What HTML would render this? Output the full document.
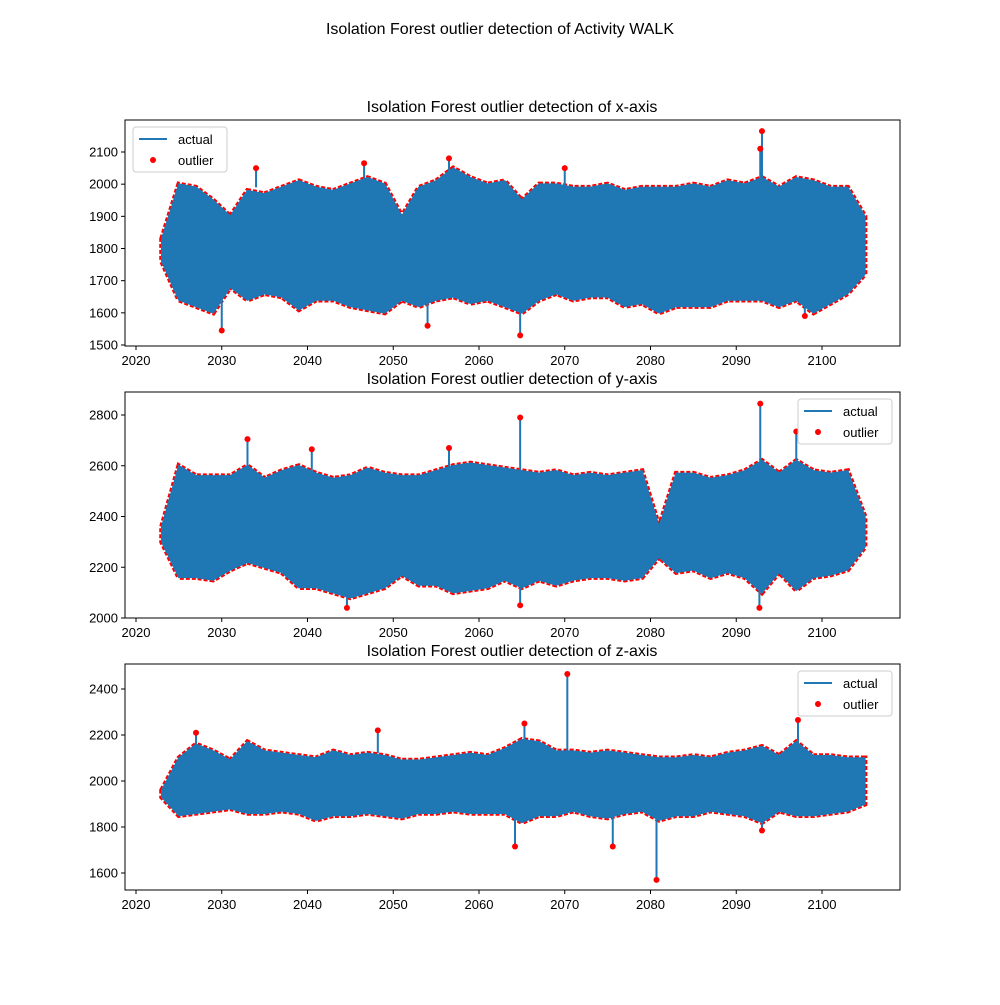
<!DOCTYPE html>
<html><head><meta charset="utf-8"><style>
body{margin:0;background:#fff;font-family:"Liberation Sans","DejaVu Sans",sans-serif}
svg text{font-family:"Liberation Sans","DejaVu Sans",sans-serif}
</style></head><body>
<svg id="c" width="1000" height="1000" xmlns="http://www.w3.org/2000/svg">
<text x="500" y="34" font-size="16" text-anchor="middle">Isolation Forest outlier detection of Activity WALK</text>
</svg>
<script>
const years=[2023,2025,2027,2029,2031,2033,2035,2037,2039,2041,2043,2045,2047,2049,2051,2053,2055,2057,2059,2061,2063,2065,2067,2069,2071,2073,2075,2077,2079,2081,2083,2085,2087,2089,2091,2093,2095,2097,2099,2101,2103,2105];
const xHi=[1830,2000,1990,1950,1900,1980,1970,1990,2010,1990,1980,2000,2020,2000,1900,1990,2010,2050,2020,2000,2010,1950,2000,2000,1990,1990,2000,1980,1990,1990,1990,2000,1990,2010,2000,2020,1990,2020,2010,1990,1990,1900];
const xLo=[1760,1640,1620,1600,1680,1640,1660,1650,1610,1640,1640,1620,1610,1600,1640,1620,1640,1650,1630,1640,1620,1600,1640,1660,1640,1650,1650,1620,1630,1600,1620,1620,1620,1640,1640,1640,1620,1640,1600,1630,1660,1720];
const yHi=[2360,2600,2560,2560,2560,2600,2550,2580,2600,2570,2550,2560,2590,2570,2560,2560,2580,2600,2610,2600,2590,2580,2570,2580,2560,2570,2560,2570,2580,2360,2570,2570,2550,2560,2580,2620,2570,2620,2580,2570,2580,2400];
const yLo=[2300,2160,2160,2150,2190,2220,2200,2180,2120,2120,2100,2080,2100,2120,2170,2130,2130,2100,2110,2120,2150,2120,2150,2130,2150,2160,2160,2150,2160,2240,2180,2190,2160,2180,2160,2100,2180,2110,2160,2170,2190,2280];
const zHi=[1960,2100,2160,2130,2090,2170,2130,2120,2110,2100,2130,2110,2120,2110,2090,2090,2100,2110,2120,2110,2140,2180,2170,2130,2130,2120,2130,2120,2110,2100,2100,2110,2100,2120,2130,2150,2110,2170,2110,2110,2100,2100];
const zLo=[1930,1850,1860,1870,1880,1860,1860,1870,1860,1830,1850,1850,1860,1850,1840,1860,1860,1870,1860,1860,1860,1820,1850,1850,1870,1850,1840,1860,1870,1830,1850,1850,1870,1860,1850,1820,1870,1850,1850,1860,1870,1900];
const xSpikeT=[2030,2034,2046.6,2056.5,2064.8,2093,2092.8,2098,2070,2054];
const xSpikeV=[1545,2050,2065,2080,1530,2165,2110,1590,2050,1560];
const ySpikeT=[2033,2040.5,2064.8,2092.8,2097,2056.5,2044.6,2092.7,2064.8];
const ySpikeV=[2705,2665,2790,2845,2735,2670,2040,2040,2050];
const zSpikeT=[2070.3,2080.7,2075.6,2064.2,2065.3,2097.2,2027,2093,2048.2];
const zSpikeV=[2465,1570,1715,1715,2250,2265,2210,1785,2220];
const xTicks=[2020,2030,2040,2050,2060,2070,2080,2090,2100];
const p1Ticks=[1500,1600,1700,1800,1900,2000,2100];
const p2Ticks=[2000,2200,2400,2600,2800];
const p3Ticks=[1600,1800,2000,2200,2400];

const svg=document.getElementById('c');const NS='http://www.w3.org/2000/svg';
function mk(t,a,p){const e=document.createElementNS(NS,t);for(const k in a)e.setAttribute(k,a[k]);(p||svg).appendChild(e);return e;}
const L=125,R=900;
function sx(t){return 136+(t-2020)*(822-136)/80;}
function panel(cfg){
  const{top,bot,v0,y0,v1,y1,hi,lo,st,sv,ticks,title,name,legLeft}=cfg;
  const sy=v=>y0+(v-v0)*(y1-y0)/(v1-v0);
  const g=mk('g',{});
  let d='M'+sx(years[0])+','+sy(hi[0]);
  for(let i=1;i<years.length;i++)d+='L'+sx(years[i])+','+sy(hi[i]);
  for(let i=years.length-1;i>=0;i--)d+='L'+sx(years[i])+','+sy(lo[i]);
  d+='Z';
  const edge=mk('path',{d:d,fill:'none',stroke:'#ff0000','stroke-width':5,'stroke-dasharray':'4 2'},g);
  
  const band=mk('path',{d:d,fill:'#1f77b4',stroke:'#1f77b4','stroke-width':1.5},g);
  
  for(let i=0;i<st.length;i++){
    const mid=(v0+v1)/2;const base=sv[i]>mid?Math.max(...hi)-60:Math.min(...lo)+60;
    const ln=mk('line',{x1:sx(st[i]),x2:sx(st[i]),y1:sy(base),y2:sy(sv[i]),stroke:'#1f77b4','stroke-width':2},g);
    
    const c=mk('circle',{cx:sx(st[i]),cy:sy(sv[i]),r:3,fill:'#ff0000'},g);
    
  }
  const fr=mk('rect',{x:L,y:top,width:R-L,height:bot-top,fill:'none',stroke:'#000','stroke-width':1},g);
  
  xTicks.forEach(t=>{const x=sx(t);mk('line',{x1:x,x2:x,y1:bot,y2:bot+4,stroke:'#000'},g);
    const tx=mk('text',{x:x,y:bot+19,'font-size':13,'text-anchor':'middle'},g);tx.textContent=t;
    });
  ticks.forEach(t=>{const y=sy(t);mk('line',{x1:L-4,x2:L,y1:y,y2:y,stroke:'#000'},g);
    const tx=mk('text',{x:L-7,y:y+4.5,'font-size':13,'text-anchor':'end'},g);tx.textContent=t;
    });
  const tt=mk('text',{x:512,y:top-8,'font-size':16,'text-anchor':'middle'},g);tt.textContent=title;
  
  const lx=legLeft?133:798,ly=top+7;
  const lg=mk('g',{},g);
  mk('rect',{x:lx,y:ly,width:94,height:45,rx:3,fill:'#fff','fill-opacity':0.85,stroke:'#ccc'},lg);
  mk('line',{x1:lx+6,x2:lx+34,y1:ly+12,y2:ly+12,stroke:'#1f77b4','stroke-width':2},lg);
  const a=mk('text',{x:lx+45,y:ly+17,'font-size':13},lg);a.textContent='actual';
  
  mk('circle',{cx:lx+20,cy:ly+33,r:3,fill:'#ff0000'},lg);
  const o=mk('text',{x:lx+45,y:ly+38,'font-size':13},lg);o.textContent='outlier';
  
}
panel({top:120,bot:346,v0:2100,y0:152,v1:1500,y1:345,hi:xHi,lo:xLo,st:xSpikeT,sv:xSpikeV,ticks:p1Ticks,title:'Isolation Forest outlier detection of x-axis',name:'x-axis-panel',legLeft:true});
panel({top:392,bot:618,v0:2800,y0:415,v1:2000,y1:618,hi:yHi,lo:yLo,st:ySpikeT,sv:ySpikeV,ticks:p2Ticks,title:'Isolation Forest outlier detection of y-axis',name:'y-axis-panel',legLeft:false});
panel({top:664,bot:890,v0:2400,y0:689,v1:1600,y1:873,hi:zHi,lo:zLo,st:zSpikeT,sv:zSpikeV,ticks:p3Ticks,title:'Isolation Forest outlier detection of z-axis',name:'z-axis-panel',legLeft:false});
</script>
</body></html>
